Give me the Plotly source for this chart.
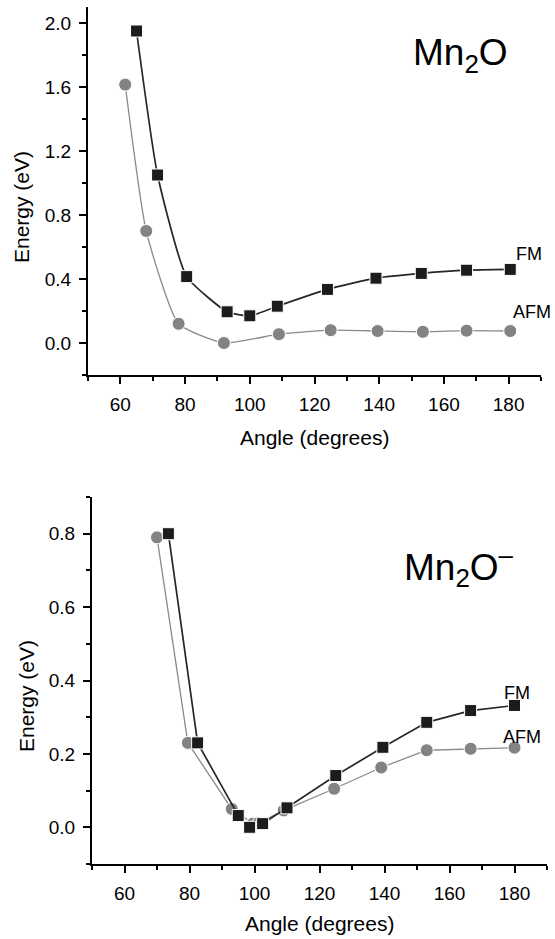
import plotly.graph_objects as go

# ---------------- data ----------------
# Top panel: Mn2O
angle_fm_top = [65, 71.5, 80.5, 93, 100, 108.5, 124, 139, 153, 167, 180.5]
e_fm_top = [1.95, 1.05, 0.415, 0.195, 0.17, 0.23, 0.335, 0.405, 0.435, 0.455, 0.46]
angle_afm_top = [61.5, 68, 78, 92, 109, 125, 139.5, 153.5, 167, 180.5]
e_afm_top = [1.615, 0.70, 0.12, 0.0, 0.055, 0.08, 0.075, 0.07, 0.077, 0.075]

# Bottom panel: Mn2O-
angle_fm_bot = [73.5, 82.5, 95, 98.5, 102.5, 110, 125, 139.5, 153, 166.5, 180]
e_fm_bot = [0.80, 0.23, 0.032, 0.0, 0.01, 0.053, 0.141, 0.218, 0.286, 0.318, 0.332]
angle_afm_bot = [70, 79.5, 93, 99.5, 101.3, 109, 124.5, 139, 153, 166.5, 180]
e_afm_bot = [0.79, 0.23, 0.05, 0.01, 0.012, 0.046, 0.105, 0.163, 0.21, 0.214, 0.217]

x_title = "Angle (degrees)"
y_title = "Energy (eV)"

# ---------------- styling ----------------
W, H = 555, 939
FONT = "Liberation Sans, Arial, Helvetica, sans-serif"
FM_COLOR = "#1c1c1c"
AFM_COLOR = "#838383"


def px(x):
    return x / W


def py(y):
    return 1 - y / H


fig = go.Figure()


def add_pair(xa, ya, afx, afy, fmx, fmy, shape):
    fig.add_trace(go.Scatter(
        x=afx, y=afy, xaxis=xa, yaxis=ya, mode="lines+markers",
        line=dict(color="#8a8a8a", width=1.3, shape=shape, smoothing=0.5),
        marker=dict(symbol="circle", size=13, color=AFM_COLOR,
                    line=dict(color="white", width=1)),
        showlegend=False, name="AFM"))
    fig.add_trace(go.Scatter(
        x=fmx, y=fmy, xaxis=xa, yaxis=ya, mode="lines+markers",
        line=dict(color="#262626", width=1.7, shape=shape, smoothing=0.5),
        marker=dict(symbol="square", size=12, color=FM_COLOR,
                    line=dict(color="white", width=1)),
        showlegend=False, name="FM"))


add_pair("x", "y", angle_afm_top, e_afm_top, angle_fm_top, e_fm_top, "spline")
add_pair("x2", "y2", angle_afm_bot, e_afm_bot, angle_fm_bot, e_fm_bot, "linear")

tickfont = dict(family=FONT, size=19, color="black")


def xaxis(domain, anchor):
    return dict(domain=domain, anchor=anchor, range=[50, 190],
                tickmode="linear", tick0=60, dtick=20,
                ticks="outside", ticklen=7, tickwidth=1.5, tickcolor="black",
                minor=dict(dtick=10, tick0=50, ticks="outside", ticklen=4,
                           tickwidth=1.5, tickcolor="black"),
                showline=True, linecolor="black", linewidth=2,
                showgrid=False, zeroline=False, tickfont=tickfont,
                ticklabelstandoff=4)


def yaxis(domain, anchor, rng, dtick):
    return dict(domain=domain, anchor=anchor, range=rng,
                tickmode="linear", tick0=0, dtick=dtick, tickformat=".1f",
                ticks="outside", ticklen=7, tickwidth=1.5, tickcolor="black",
                minor=dict(dtick=dtick / 2, tick0=0, ticks="outside", ticklen=4,
                           tickwidth=1.5, tickcolor="black"),
                showline=True, linecolor="black", linewidth=2,
                showgrid=False, zeroline=False, tickfont=tickfont,
                ticklabelstandoff=4)


fig.update_layout(
    width=W, height=H,
    margin=dict(l=0, r=0, t=0, b=0),
    paper_bgcolor="white", plot_bgcolor="white",
    font=dict(family=FONT, color="black"),
    xaxis=xaxis([px(88), px(541)], "y"),
    yaxis=yaxis([py(375), py(7)], "x", [-0.2, 2.1], 0.4),
    xaxis2=xaxis([px(92), px(547)], "y2"),
    yaxis2=yaxis([py(864), py(497)], "x2", [-0.1, 0.9], 0.2),
)

ann = []
title_font = dict(family=FONT, size=21, color="black")
label_font = dict(family=FONT, size=18, color="black")
# axis titles
ann.append(dict(text=x_title, x=px(314), y=py(437), xref="paper", yref="paper",
                showarrow=False, font=title_font, xanchor="center", yanchor="middle"))
ann.append(dict(text=x_title, x=px(319), y=py(923), xref="paper", yref="paper",
                showarrow=False, font=title_font, xanchor="center", yanchor="middle"))
ann.append(dict(text=y_title, x=px(22), y=py(207), xref="paper", yref="paper",
                showarrow=False, font=title_font, textangle=-90,
                xanchor="center", yanchor="middle"))
ann.append(dict(text=y_title, x=px(26), y=py(696), xref="paper", yref="paper",
                showarrow=False, font=title_font, textangle=-90,
                xanchor="center", yanchor="middle"))
# series labels
ann.append(dict(text="FM", x=px(529), y=py(254), xref="paper", yref="paper",
                showarrow=False, font=label_font, xanchor="center", yanchor="middle"))
ann.append(dict(text="AFM", x=px(532), y=py(312), xref="paper", yref="paper",
                showarrow=False, font=label_font, xanchor="center", yanchor="middle"))
ann.append(dict(text="FM", x=px(517), y=py(693), xref="paper", yref="paper",
                showarrow=False, font=label_font, xanchor="center", yanchor="middle"))
ann.append(dict(text="AFM", x=px(522), y=py(737), xref="paper", yref="paper",
                showarrow=False, font=label_font, xanchor="center", yanchor="middle"))
# molecule labels
mol_font = dict(family=FONT, size=37, color="black")
ann.append(dict(text="Mn<sub>2</sub>O", x=px(411), y=py(30), xref="paper", yref="paper",
                showarrow=False, font=mol_font, xanchor="left", yanchor="top"))
ann.append(dict(text="Mn<sub>2</sub>O<sup>\u2013</sup>", x=px(402), y=py(539),
                xref="paper", yref="paper",
                showarrow=False, font=mol_font, xanchor="left", yanchor="top"))

fig.update_layout(annotations=ann)

fig.write_html("out.html")
